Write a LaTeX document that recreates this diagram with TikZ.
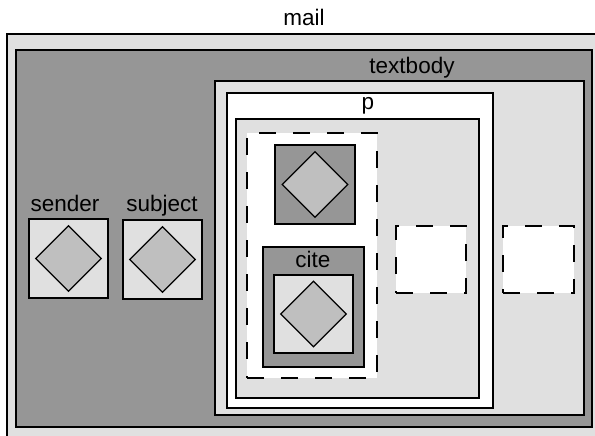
\documentclass[tikz,border=0pt]{standalone}
\usepackage{fontspec}
\setmainfont{Liberation Sans}
\usetikzlibrary{shapes.geometric}
\definecolor{boxdark}{gray}{0.59}
\definecolor{boxlight}{gray}{0.88}
\definecolor{gemgray}{gray}{0.75}
\tikzset{
  box/.style={rectangle,draw,line width=1.2pt,inner sep=0pt},
  darkbox/.style={box,fill=boxdark},
  lightbox/.style={box,fill=boxlight},
  whitebox/.style={box,fill=white},
  holebox/.style={box,fill=white,dash pattern=on 17pt off 17pt},
  gem/.style={diamond,draw,line width=1.2pt,fill=gemgray,inner sep=0pt,minimum size=66pt},
  tag/.style={anchor=base,inner sep=0pt,font=\fontsize{22.5}{27}\selectfont}
}
\begin{document}
\begin{tikzpicture}[x=1pt,y=-1pt]
        \clip (0,0) rectangle (595,436);
        % mail
        \node at (304,238.5) [lightbox,minimum width=594pt,minimum height=409pt] (mail) {};
        \node at (304,238.5) [darkbox,minimum width=576pt,minimum height=377pt] (mailin) {};
        \node at (304,26) [tag] (mailtag) {mail};
        % sender and subject
        \node at (65,211) [tag] (sendertag) {sender};
        \node at (68.5,258.5) [lightbox,minimum width=79pt,minimum height=79pt] (sender) {};
        \node at (sender.center) [gem] (sendergem) {};
        \node at (162,211) [tag] (subjecttag) {subject};
        \node at (162.5,259.5) [lightbox,minimum width=79pt,minimum height=79pt] (subject) {};
        \node at (subject.center) [gem] (subjectgem) {};
        % textbody
        \node at (412,74) [tag] (textbodytag) {textbody};
        \node at (399.5,248) [lightbox,minimum width=369pt,minimum height=334pt] (textbody) {};
        \node at (538.5,259.5) [holebox,minimum width=71pt,minimum height=67pt] (hole2) {};
        % p
        \node at (360,250.5) [whitebox,minimum width=266pt,minimum height=315pt] (p) {};
        \node at (368,110) [tag] (ptag) {p};
        \node at (357.5,258.5) [lightbox,minimum width=243pt,minimum height=279pt] (pin) {};
        \node at (431,259.5) [holebox,minimum width=70pt,minimum height=67pt] (hole1) {};
        \node at (312,255.5) [holebox,minimum width=130pt,minimum height=245pt] (group) {};
        \node at (315,184.5) [darkbox,minimum width=80pt,minimum height=79pt] (top) {};
        \node at (top.center) [gem] (topgem) {};
        % cite
        \node at (313.5,307) [darkbox,minimum width=101pt,minimum height=120pt] (cite) {};
        \node at (313,267) [tag] (citetag) {cite};
        \node at (313.5,314) [lightbox,minimum width=79pt,minimum height=78pt] (citein) {};
        \node at (citein.center) [gem] (citegem) {};
\end{tikzpicture}
\end{document}
